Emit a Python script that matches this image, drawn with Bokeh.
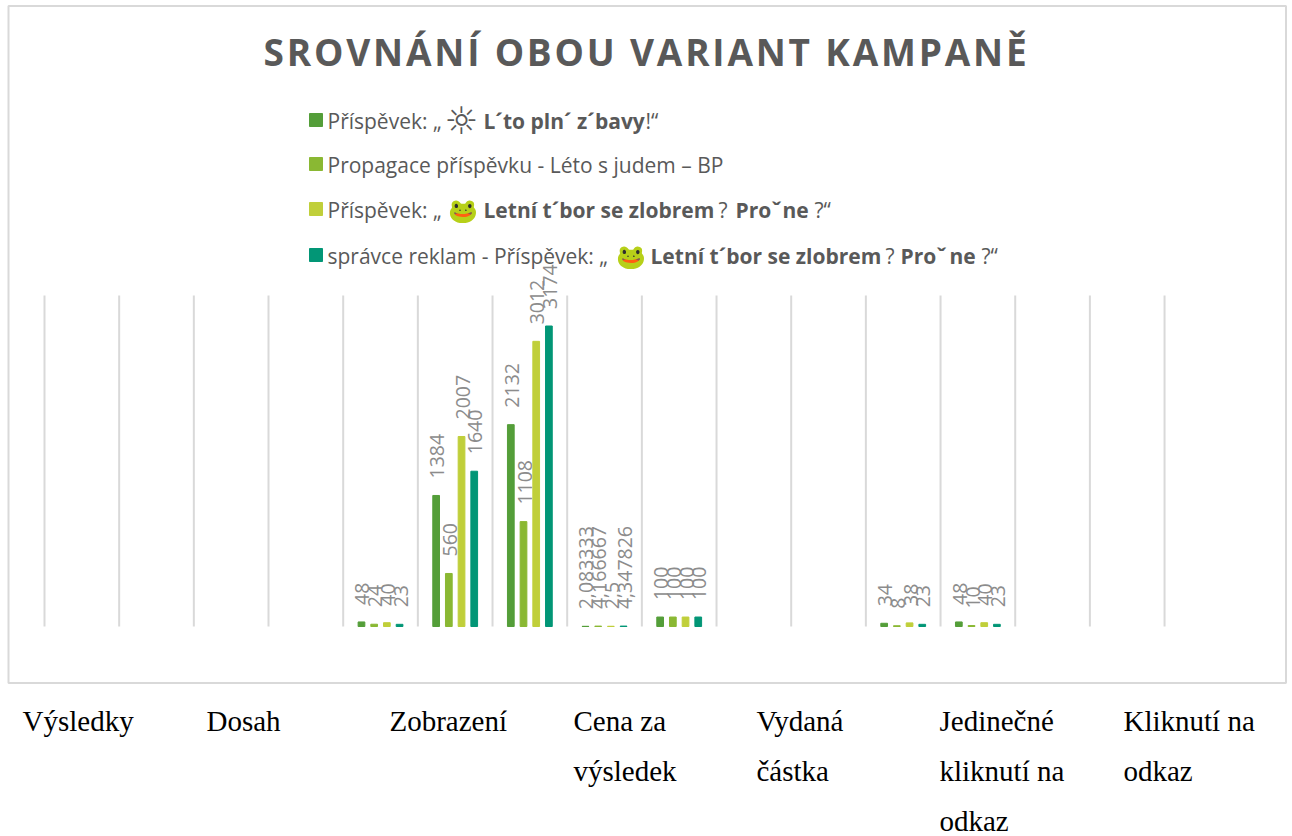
from bokeh.plotting import figure
from bokeh.layouts import column
from bokeh.models import ColumnDataSource, Range1d, Label, Div
from bokeh.core.properties import value
from bokeh.embed import file_html
from bokeh.resources import INLINE

title_text = "SROVNÁNÍ OBOU VARIANT KAMPANĚ"
series_names = ["s1", "s2", "s3", "s4"]
series_colors = ["#549E39", "#8AB833", "#C0CF3A", "#029676"]
grid_ticks = list(range(16))
category_index = [4, 5, 6, 7, 8, 11, 12]
s1 = [48, 1384, 2132, 2.083333, 100, 34, 48]
s2 = [24, 560, 1108, 4.166667, 100, 8, 10]
s3 = [40, 2007, 3012, 2.5, 100, 38, 40]
s4 = [23, 1640, 3174, 4.347826, 100, 23, 23]
legend_rows = [
    [("Příspěvek: „", 327, "normal"), ("L´to pln´ z´bavy", 483, "bold"), ("!“", 645, "normal")],
    [("Propagace příspěvku - Léto s judem – BP", 327, "normal")],
    [("Příspěvek: „", 327, "normal"), ("Letní t´bor se zlobrem", 483, "bold"), ("?", 718, "normal"), ("Proˇ", 735, "bold"), ("ne", 782, "bold"), ("?“", 814, "normal")],
    [("správce reklam - Příspěvek: „", 327, "normal"), ("Letní t´bor se zlobrem", 650, "bold"), ("?", 885, "normal"), ("Proˇ", 900, "bold"), ("ne", 949, "bold"), ("?“", 981, "normal")],
]
legend_icons = [("☼", 444, 120, "DejaVu Sans", "38px"), ("🐸", 447, 209, "Noto Sans", "24px"), ("🐸", 615, 255, "Noto Sans", "24px")]
table_labels = [
    (22, ["Výsledky"]), (206, ["Dosah"]), (389, ["Zobrazení"]), (573, ["Cena za", "výsledek"]),
    (756, ["Vydaná", "částka"]), (939, ["Jedinečné", "kliknutí na", "odkaz"]), (1123, ["Kliknutí na", "odkaz"]),
]

W, H = 1292, 836
PX_X = 74.67                 # pixels per category
PX_Y = 300.5 / 3174          # pixels per value
X0, Y0 = 44, 626             # picture position of the plot origin


def dx(px):
    return (px - X0) / PX_X


def dy(py):
    return (Y0 - py) / PX_Y


def add_label(text, x, y, **kw):
    p.add_layout(Label(x=x, y=H - y, x_units="screen", y_units="screen", text=text,
                       text_baseline="middle", **kw))


title = Div(text=title_text, width=W - 1, height=60, margin=(28, 0, -88, 1),
            styles={"font-family": "Open Sans", "font-weight": "bold", "font-size": "37px",
                    "letter-spacing": "2.8px", "color": "#595959", "text-align": "center", "line-height": "48px"})

p = figure(width=W, height=H, output_backend="svg", toolbar_location=None,
           x_range=Range1d(dx(0), dx(W)), y_range=Range1d(dy(H), dy(0)),
           min_border=0, outline_line_color=None, background_fill_color=None, border_fill_color=None)
p.xaxis.visible = False
p.yaxis.visible = False
p.grid.visible = False

# chart frame
p.quad(left=[dx(8)], right=[dx(1285.5)], top=[dy(5.5)], bottom=[dy(682.5)], fill_color=None,
       line_color="#d9d9d9", line_width=2)
# vertical gridlines
p.segment(x0=grid_ticks, x1=grid_ticks, y0=[0] * 16, y1=[dy(295)] * 16, line_color="#d9d9d9", line_width=2)

offsets = [-0.255, -0.085, 0.085, 0.255]
for vals, name, col, off in zip([s1, s2, s3, s4], series_names, series_colors, offsets):
    src = ColumnDataSource(dict(
        x=[c + 0.5 + off for c in category_index], y=vals,
        label=[f"{v:g}".replace(".", ",") if float(v).is_integer() else f"{v:.6f}".rstrip("0").replace(".", ",") for v in vals]))
    p.vbar(x="x", top="y", width=0.09, bottom=0, color=col, source=src)
    p.text(x="x", y="y", text="label", source=src, angle=1.5708, text_align="left", text_baseline="middle",
           x_offset=1, y_offset=-17, text_font=value("Open Sans"), text_font_size="19.5px", text_color="#8c8c8c")

for row, yc, col in zip(legend_rows, [120, 164, 209, 255], series_colors):
    p.quad(left=[dx(309)], right=[dx(322)], top=[dy(yc - 7)], bottom=[dy(yc + 6)], color=col)
    for text, x, style in row:
        add_label(text, x, yc, text_font="Open Sans", text_font_style=style, text_font_size="21px", text_color="#595959")
for text, x, yc, font, size in legend_icons:
    add_label(text, x, yc, text_font=font, text_font_size=size, text_color="#595959")

for x, lines in table_labels:
    for i, line in enumerate(lines):
        add_label(line, x, 720 + 50 * i, text_font="Liberation Serif", text_font_size="29px", text_color="#000000")

open("out.html", "w").write(file_html(column(title, p, spacing=0), INLINE))
